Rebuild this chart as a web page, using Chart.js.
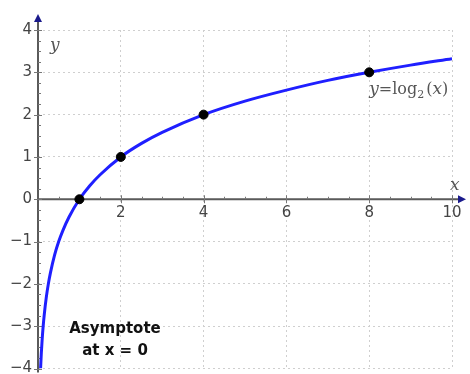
<!DOCTYPE html>
<html lang="en">
<head>
    <meta charset="UTF-8">
    <title>log2 graph</title>
    <script src="https://cdn.jsdelivr.net/npm/chart.js"></script>
    <style>
        body { margin: 0; background: #fff; }
        #wrap { width: 470px; height: 374px; }
    </style>
</head>
<body>
    <div id="wrap"><canvas id="myChart" width="470" height="374"></canvas></div>
    <script>
        // curve
        const curveX = [0.0625, 0.08, 0.1, 0.125, 0.15, 0.2, 0.25, 0.3, 0.4, 0.5, 0.6, 0.75, 1, 1.25, 1.5, 2, 2.5, 3, 4, 5, 6, 7, 8, 9, 10];
        const curveY = [-4, -3.64, -3.32, -3, -2.74, -2.32, -2, -1.74, -1.32, -1, -0.74, -0.42, 0, 0.32, 0.58, 1, 1.32, 1.58, 2, 2.32, 2.58, 2.81, 3, 3.17, 3.32];
        // marked points
        const dotX = [1, 2, 4, 8];
        const dotY = [0, 1, 2, 3];
        // tick labels
        const xTicks = [2, 4, 6, 8, 10];
        const yTicks = [4, 3, 2, 1, 0, -1, -2, -3, -4];

        const curve = curveX.map((x, i) => ({x: x, y: curveY[i]}));
        const dots = dotX.map((x, i) => ({x: x, y: dotY[i]}));

        const axesPlugin = {
            id: 'axes',
            beforeDatasetsDraw(chart) {
                const ctx = chart.ctx;
                const xs = chart.scales.x, ys = chart.scales.y;
                const x0 = xs.getPixelForValue(0), y0 = ys.getPixelForValue(0);
                ctx.save();
                ctx.strokeStyle = '#5a5a5a';
                ctx.lineWidth = 2;
                ctx.beginPath();
                ctx.moveTo(x0, ys.getPixelForValue(-4) + 4);
                ctx.lineTo(x0, ys.getPixelForValue(4) - 12);
                ctx.moveTo(x0, y0);
                ctx.lineTo(xs.getPixelForValue(10) + 10, y0);
                ctx.stroke();

                // minor ticks
                ctx.lineWidth = 1;
                ctx.strokeStyle = '#777';
                ctx.beginPath();
                for (let v = 0.5; v <= 10; v += 0.5) {
                    const px = Math.round(xs.getPixelForValue(v)) + 0.5;
                    const big = v % 2 === 0;
                    ctx.moveTo(px, y0 - (big ? 4 : 2.5));
                    ctx.lineTo(px, y0 + (big ? 4 : 0));
                }
                for (let v = -4; v <= 4; v += 0.25) {
                    const py = Math.round(ys.getPixelForValue(v)) + 0.5;
                    const big = v % 1 === 0;
                    ctx.moveTo(x0 - (big ? 4 : 0), py);
                    ctx.lineTo(x0 + (big ? 4 : 3), py);
                }
                ctx.stroke();

                // arrows
                ctx.fillStyle = '#1a1a8c';
                const topY = ys.getPixelForValue(4) - 16;
                ctx.beginPath();
                ctx.moveTo(x0, topY);
                ctx.lineTo(x0 - 4, topY + 8);
                ctx.lineTo(x0 + 4, topY + 8);
                ctx.closePath();
                ctx.fill();
                const rightX = xs.getPixelForValue(10) + 14;
                ctx.beginPath();
                ctx.moveTo(rightX, y0);
                ctx.lineTo(rightX - 8, y0 - 4);
                ctx.lineTo(rightX - 8, y0 + 4);
                ctx.closePath();
                ctx.fill();

                // tick labels
                ctx.fillStyle = '#444';
                ctx.font = '15px "DejaVu Sans"';
                ctx.textAlign = 'right';
                ctx.textBaseline = 'middle';
                yTicks.forEach(v => {
                    const lbl = v < 0 ? '\u2212' + (-v) : String(v);
                    ctx.fillText(lbl, x0 - 6, ys.getPixelForValue(v));
                });
                ctx.textAlign = 'center';
                ctx.textBaseline = 'top';
                xTicks.forEach(v => {
                    ctx.fillText(String(v), xs.getPixelForValue(v), y0 + 6);
                });
                ctx.restore();
            },
            afterDraw(chart) {
                const ctx = chart.ctx;
                const xs = chart.scales.x, ys = chart.scales.y;
                const x0 = xs.getPixelForValue(0), y0 = ys.getPixelForValue(0);
                ctx.save();
                ctx.fillStyle = '#555';
                ctx.textBaseline = 'alphabetic';
                ctx.textAlign = 'left';
                // axis names
                ctx.font = 'italic 17px "DejaVu Serif"';
                ctx.fillText('y', x0 + 12, ys.getPixelForValue(4) + 20);
                ctx.fillText('x', xs.getPixelForValue(10) - 2, y0 - 9);

                // function label
                let lx = xs.getPixelForValue(8), ly = ys.getPixelForValue(3) + 22;
                const part = (t, font, dy) => {
                    ctx.font = font;
                    ctx.fillText(t, lx, ly + (dy || 0));
                    lx += ctx.measureText(t).width;
                };
                part('y', 'italic 17px "DejaVu Serif"');
                part('=', '16px "DejaVu Serif"');
                part('log', '16px "DejaVu Serif"');
                part('2', '11px "DejaVu Serif"', 4);
                lx += 2;
                part('(', '16px "DejaVu Serif"');
                part('x', 'italic 17px "DejaVu Serif"');
                part(')', '16px "DejaVu Serif"');

                // asymptote note
                ctx.fillStyle = '#111';
                ctx.font = 'bold 15px "DejaVu Sans"';
                ctx.textAlign = 'center';
                ctx.fillText('Asymptote', 115, 333);
                ctx.fillText('at x = 0', 115, 355);
                ctx.restore();
            }
        };

        const gridOpts = { color: '#cfcfcf', lineWidth: 1, drawTicks: false };
        const borderOpts = { display: false, dash: [2, 3] };

        const ctx = document.getElementById('myChart').getContext('2d');
        const myChart = new Chart(ctx, {
            type: 'scatter',
            data: {
                datasets: [{
                    data: dots,
                    pointRadius: 4.5,
                    pointHoverRadius: 4.5,
                    backgroundColor: '#000',
                    borderColor: '#000',
                    order: 0
                }, {
                    data: curve,
                    showLine: true,
                    pointRadius: 0,
                    borderColor: '#1f1fff',
                    borderWidth: 3,
                    cubicInterpolationMode: 'monotone',
                    order: 1
                }]
            },
            options: {
                responsive: false,
                animation: false,
                events: [],
                layout: { padding: { left: 38, right: 18, top: 30, bottom: 4 } },
                plugins: { legend: { display: false }, tooltip: { enabled: false } },
                scales: {
                    x: {
                        type: 'linear', min: 0, max: 10,
                        ticks: { display: false, stepSize: 2 },
                        border: borderOpts,
                        grid: gridOpts
                    },
                    y: {
                        min: -4, max: 4,
                        ticks: { display: false, stepSize: 1 },
                        border: borderOpts,
                        grid: gridOpts
                    }
                }
            },
            plugins: [axesPlugin]
        });
    </script>
</body>
</html>
